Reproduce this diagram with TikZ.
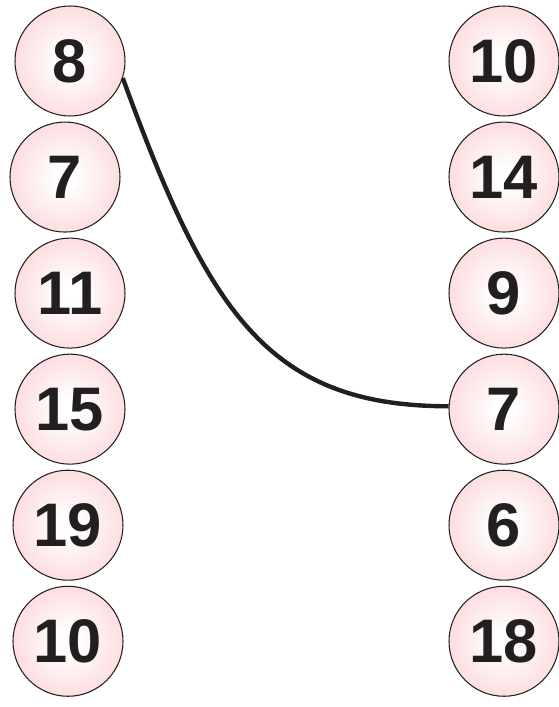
\documentclass[tikz,border=0pt]{standalone}
\usepackage{fontspec}
\setmainfont{Liberation Sans}
\usepackage{tikz}
\usetikzlibrary{positioning}
\definecolor{ballpink}{RGB}{250,186,190}
\definecolor{inkdark}{RGB}{35,31,32}
\pgfdeclareradialshading{ballshade}{\pgfpoint{0bp}{0bp}}{color(0bp)=(white); color(4bp)=(white); color(48bp)=(ballpink); color(100bp)=(ballpink)}

\begin{document}
\begin{tikzpicture}[
    node distance=0.1cm,
    ball/.style={circle, draw=inkdark, line width=0.6pt, shading=ballshade, minimum size=2.2cm, inner sep=0pt, font=\fontsize{35}{35}\selectfont\bfseries, text=inkdark},
    link/.style={draw=inkdark, line width=2.5pt}
]
    \useasboundingbox (0,0) rectangle (11.16,14.14);

    % left column
    \node[ball] (l1) at (1.40,12.92) {8};
    \node[ball, below=of l1, xshift=-0.1cm] (l2) {7};
    \node[ball, below=of l2, xshift=0.1cm] (l3) {11};
    \node[ball, below=of l3] (l4) {15};
    \node[ball, below=of l4, xshift=-0.04cm] (l5) {19};
    \node[ball, below=of l5] (l6) {10};

    % right column
    \node[ball] (r1) at (10.08,12.92) {10};
    \node[ball, below=of r1] (r2) {14};
    \node[ball, below=of r2] (r3) {9};
    \node[ball, below=of r3] (r4) {7};
    \node[ball, below=of r4] (r5) {6};
    \node[ball, below=of r5] (r6) {18};

    % connector
    \draw[link] (l1.-18) .. controls +(-70:5) and +(-3.6,0) .. (r4.177);
\end{tikzpicture}
\end{document}
